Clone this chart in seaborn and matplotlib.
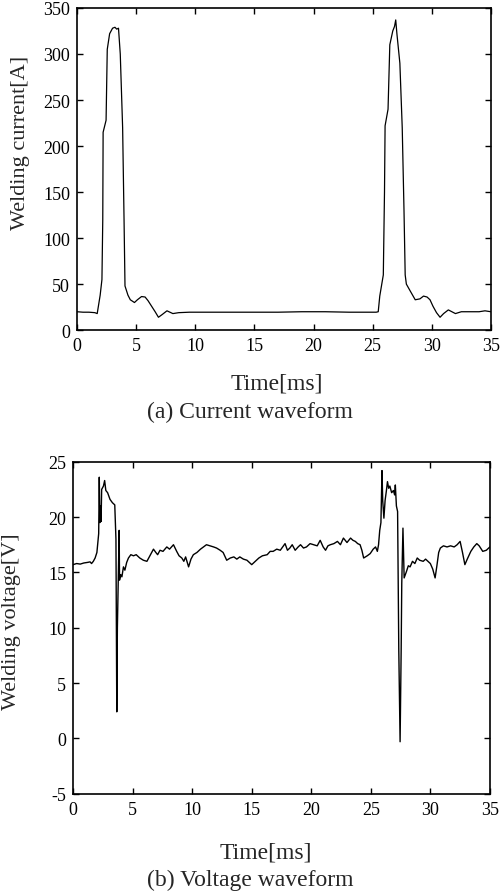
import numpy as np
import pandas as pd
import seaborn as sns
import matplotlib
matplotlib.use('Agg')
import matplotlib.pyplot as plt

# (a) current waveform
time_current = [0.0, 0.5, 1.0, 1.5, 1.7, 1.95, 2.1, 2.17, 2.2, 2.45, 2.55, 2.75,
                3.0, 3.2, 3.35, 3.5, 3.65, 3.85, 3.97, 4.05, 4.3, 4.5, 4.85,
                5.1, 5.45, 5.75, 6.0, 6.3, 6.6, 6.88, 7.2, 7.6, 8.1, 8.6, 9.5,
                11.0, 13.0, 15.0, 17.0, 19.0, 21.0, 23.0, 24.5, 25.3, 25.47,
                25.6, 25.9, 26.0, 26.05, 26.3, 26.45, 26.7, 26.85, 26.95,
                27.05, 27.3, 27.5, 27.65, 27.75, 27.85, 28.2, 28.6, 29.0,
                29.3, 29.6, 29.85, 30.1, 30.4, 30.7, 31.0, 31.4, 31.7, 32.0,
                32.5, 33.0, 34.0, 34.5, 35.0]
current = [20, 19.5, 19.5, 19, 18, 38, 55, 120, 215, 228, 305, 322,
           328, 329, 327, 328, 300, 220, 120, 48, 38, 33, 30,
           33, 36.5, 36, 32, 26, 20, 14, 17, 21, 18, 19, 19.5,
           19.5, 19.5, 19.5, 19.5, 20, 20, 19.5, 19.5, 19.5, 20,
           37, 60, 150, 222, 240, 310, 325, 330, 337,
           322, 290, 220, 130, 60, 50, 42, 33, 34,
           37, 36, 33, 26, 19, 14, 18, 22, 20, 18,
           20, 20, 20, 21, 20]

# (b) voltage waveform
time_voltage = [0.0, 0.3, 0.6, 0.9, 1.2, 1.43, 1.55, 1.7, 1.85, 2.0, 2.1, 2.15,
                2.2, 2.25, 2.3, 2.35, 2.4, 2.55, 2.65, 2.75, 2.9, 3.1, 3.3,
                3.5, 3.6, 3.67, 3.72, 3.8, 3.87, 3.9, 4.0, 4.1, 4.23, 4.35,
                4.5, 4.65, 4.85, 5.07, 5.3, 5.6, 5.9, 6.2, 6.45, 6.75, 6.95,
                7.1, 7.3, 7.55, 7.87, 8.1, 8.43, 8.7, 8.9, 9.13, 9.3, 9.45,
                9.7, 9.9, 10.1, 10.4, 10.7, 10.95, 11.2, 11.5, 11.8, 12.05,
                12.35, 12.6, 12.9, 13.2, 13.5, 13.75, 14.0, 14.3, 14.6, 14.8,
                15.0, 15.3, 15.6, 15.9, 16.3, 16.55, 16.8, 17.1, 17.4, 17.6,
                17.8, 18.0, 18.2, 18.4, 18.65, 18.9, 19.1, 19.35, 19.6, 19.9,
                20.2, 20.5, 20.75, 21.0, 21.2, 21.4, 21.6, 21.9, 22.2, 22.45,
                22.7, 23.0, 23.3, 23.5, 23.7, 23.9, 24.1, 24.25, 24.4, 24.7,
                24.95, 25.2, 25.4, 25.55, 25.65, 25.75, 25.85, 25.94, 26.0,
                26.1, 26.2, 26.3, 26.4, 26.5, 26.6, 26.75, 26.9, 27.0, 27.06,
                27.15, 27.25, 27.35, 27.46, 27.55, 27.6, 27.7, 27.8, 27.9,
                28.0, 28.15, 28.3, 28.5, 28.7, 28.9, 29.1, 29.4, 29.6, 29.8,
                30.0, 30.2, 30.4, 30.55, 30.7, 30.84, 31.1, 31.4, 31.7, 32.0,
                32.25, 32.5, 32.7, 32.9, 33.1, 33.4, 33.65, 33.9, 34.1, 34.4,
                34.7, 35.0]
voltage = [15.7, 15.8, 15.75, 15.85, 15.9, 15.95, 15.8, 16.0, 16.3, 16.8, 18.0, 18.5,
           23.6, 19.5, 21.0, 19.6, 22.5, 22.8, 23.3, 22.4, 22.2, 21.6, 21.3,
           21.1, 18.0, 2.4, 10.0, 14.5, 18.8, 14.3, 14.8, 14.6, 15.5, 15.2,
           15.9, 16.3, 16.6, 16.5, 16.6, 16.3, 16.1, 16.0, 16.5, 17.1, 16.8,
           16.6, 17.0, 16.9, 17.3, 17.1, 17.5, 16.9, 16.5, 16.3, 16.0, 16.4,
           15.5, 16.2, 16.6, 16.8, 17.1, 17.3, 17.5, 17.4, 17.3, 17.2,
           17.0, 16.8, 16.1, 16.3, 16.4, 16.2, 16.4, 16.2, 16.1, 15.9,
           15.7, 16.0, 16.3, 16.5, 16.6, 16.9, 16.9, 17.1, 17.0, 17.3,
           17.6, 17.0, 17.2, 17.5, 17.0, 17.3, 17.5, 17.2, 17.3, 17.6,
           17.5, 17.4, 17.9, 17.3, 17.0, 17.4, 17.5, 17.6, 17.8, 17.5,
           18.1, 17.7, 18.1, 17.9, 17.8, 17.6, 17.5, 17.0, 16.3, 16.5,
           16.7, 17.1, 17.3, 16.9, 17.5, 18.8, 19.5, 24.2, 21.5,
           19.9, 21.5, 22.3, 23.2, 22.6, 22.8, 22.2, 22.4, 22.0, 22.9,
           21.0, 20.5, 8.0, -0.3, 8.0, 14.0, 19.0, 14.5, 14.8,
           15.1, 15.6, 15.5, 16.0, 15.8, 16.3, 16.1, 16.0, 16.2, 16.0,
           15.8, 15.3, 14.5, 15.6, 16.8, 17.2, 17.4, 17.3, 17.4, 17.3,
           17.5, 17.8, 16.8, 15.7, 16.2, 16.9, 17.3, 17.6, 17.4, 16.9,
           17.0, 17.3]

sns.set_theme(style='ticks')
plt.rcParams['font.family'] = ['Liberation Serif', 'DejaVu Serif']
plt.rcParams['axes.unicode_minus'] = False

fig = plt.figure(figsize=(5.04, 8.95), dpi=100)
ax1 = fig.add_axes([0.153, 0.630, 0.821, 0.360])
ax2 = fig.add_axes([0.145, 0.112, 0.827, 0.371])

df_cur = pd.DataFrame({'t': time_current, 'i': current})
df_volt = pd.DataFrame({'t': time_voltage, 'v': voltage})

sns.lineplot(data=df_cur, x='t', y='i', ax=ax1, color='black', linewidth=0.9,
             sort=False, estimator=None)
sns.lineplot(data=df_volt, x='t', y='v', ax=ax2, color='black', linewidth=1.0,
             sort=False, estimator=None)

ax1.set_xlim(0, 35)
ax1.set_ylim(0, 350)
ax1.set_xticks(range(0, 36, 5))
ax1.set_yticks(range(0, 351, 50))
ax2.set_xlim(0, 35)
ax2.set_ylim(-5, 25)
ax2.set_xticks(range(0, 36, 5))
ax2.set_yticks(range(-5, 26, 5))

for ax in (ax1, ax2):
    for sp in ax.spines.values():
        sp.set_visible(True)
        sp.set_color('black')
        sp.set_linewidth(1.2)
    ax.tick_params(direction='in', top=True, right=True, length=4, width=1,
                   labelsize=13, colors='black', pad=5)

ax1.set_xlabel('Time[ms]', fontsize=17, labelpad=13)
ax1.xaxis.label.set_x(0.483)
ax1.set_ylabel('Welding current[A]', fontsize=16)
ax1.yaxis.set_label_coords(-0.115, 0.585)
ax2.set_xlabel('Time[ms]', fontsize=17, labelpad=17)
ax2.xaxis.label.set_x(0.463)
ax2.set_ylabel('Welding voltage[V]', fontsize=16)
ax2.yaxis.set_label_coords(-0.125, 0.52)

fig.text(0.496, 1 - 412 / 895, '(a) Current waveform', ha='center', va='center',
         fontsize=17)
fig.text(0.496, 1 - 880 / 895, '(b) Voltage waveform', ha='center', va='center',
         fontsize=17)

fig.savefig('out.png', dpi=100)
